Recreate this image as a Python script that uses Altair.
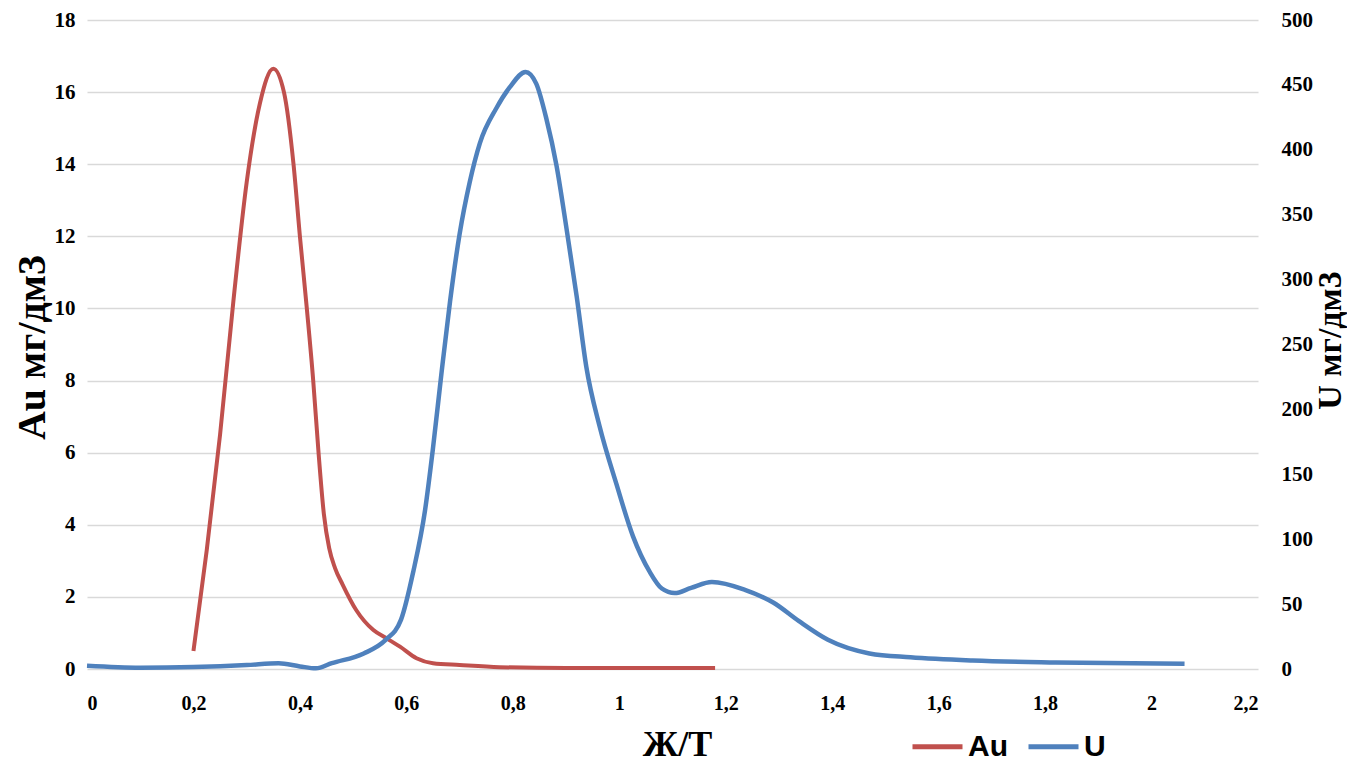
import altair as alt
import pandas as pd

# Au series (left axis, мг/дм3)
au_x = [0.20, 0.225, 0.25, 0.275, 0.30, 0.325, 0.35, 0.37, 0.388, 0.40, 0.413, 0.425,
        0.435, 0.445, 0.455, 0.466, 0.48, 0.506, 0.538, 0.563, 0.588, 0.619, 0.65, 0.70,
        0.775, 0.90, 1.00, 1.18]
au_y = [0.5, 3.3, 6.5, 10.2, 13.5, 15.7, 16.65, 16.0, 14.0, 12.0, 10.0, 8.0,
        6.0, 4.3, 3.35, 2.8, 2.35, 1.63, 1.08, 0.85, 0.62, 0.30, 0.16, 0.11,
        0.05, 0.03, 0.03, 0.03]

# U series (right axis, мг/дм3)
u_x = [0.0, 0.1, 0.2, 0.3, 0.36, 0.40, 0.43, 0.46, 0.52, 0.56, 0.59, 0.613, 0.635,
       0.65, 0.666, 0.682, 0.70, 0.719, 0.738, 0.769, 0.794, 0.824, 0.844, 0.863,
       0.882, 0.901, 0.92, 0.938, 0.963, 0.995, 1.026, 1.057, 1.08, 1.104, 1.135,
       1.174, 1.236, 1.29, 1.337, 1.392, 1.47, 1.547, 1.664, 1.82, 2.062]
u_y = [2.5, 1.0, 1.5, 3.0, 4.4, 2.0, 0.5, 4.5, 12.0, 22.0, 38.0, 75.0, 122.0,
       170.0, 228.0, 283.0, 335.0, 375.0, 405.0, 432.0, 448.0, 460.0, 451.0, 424.0,
       388.0, 339.0, 287.0, 233.0, 187.0, 142.0, 102.0, 75.0, 62.0, 58.5, 62.5,
       67.0, 61.0, 51.0, 37.0, 22.5, 12.0, 9.0, 6.5, 5.0, 4.0]

x_ticks = [0, 0.2, 0.4, 0.6, 0.8, 1.0, 1.2, 1.4, 1.6, 1.8, 2.0, 2.2]
left_ticks = [0, 2, 4, 6, 8, 10, 12, 14, 16, 18]
right_ticks = [0, 50, 100, 150, 200, 250, 300, 350, 400, 450, 500]
series_names = ["Au", "U"]
series_colors = ["#C0504D", "#4F81BD"]

au_df = pd.DataFrame({"x": au_x, "y": au_y, "series": "Au"})
u_df = pd.DataFrame({"x": u_x, "y": u_y, "series": "U"})

SERIF = "Liberation Serif"

x_enc = alt.X(
    "x:Q",
    scale=alt.Scale(domain=[0, 2.2], nice=False, zero=False),
    axis=alt.Axis(
        values=x_ticks,
        labelExpr="replace(format(datum.value, '.1~f'), '.', ',')",
        grid=False, domain=False, ticks=False,
        labelFont=SERIF, labelFontWeight="bold", labelFontSize=20, labelColor="black",
        labelPadding=24,
        title="Ж/Т", titleFont=SERIF, titleFontWeight="bold", titleFontSize=36,
        titleColor="black", titleX=590, titleY=75, titleBaseline="middle",
        titleAlign="center",
    ),
)

color_enc = alt.Color(
    "series:N",
    scale=alt.Scale(domain=series_names, range=series_colors),
    legend=alt.Legend(
        title=None, orient="none", legendX=823, legendY=699, direction="horizontal",
        symbolType="stroke", symbolSize=2500, symbolStrokeWidth=5,
        labelFont="Liberation Sans Narrow, Liberation Sans", labelFontWeight="bold",
        labelFontSize=30, labelColor="black", labelOffset=3, columnPadding=10,
    ),
)

au_line = alt.Chart(au_df).mark_line(interpolate="monotone", strokeWidth=4).encode(
    x=x_enc,
    y=alt.Y(
        "y:Q",
        scale=alt.Scale(domain=[0, 18], nice=False),
        axis=alt.Axis(
            orient="left", values=left_ticks, grid=True, gridColor="#D9D9D9",
            gridWidth=1.3, domain=False, ticks=False,
            labelFont=SERIF, labelFontWeight="bold", labelFontSize=21,
            labelColor="black", labelPadding=12,
            title="Au мг/дм3", titleFont=SERIF, titleFontWeight="bold",
            titleFontSize=40, titleColor="black", titleAngle=270,
            titleX=-55, titleY=327, titleAlign="center", titleBaseline="middle",
        ),
    ),
    color=color_enc,
)

u_line = alt.Chart(u_df).mark_line(interpolate="monotone", strokeWidth=4.5).encode(
    x=x_enc,
    y=alt.Y(
        "y:Q",
        scale=alt.Scale(domain=[0, 500], nice=False),
        axis=alt.Axis(
            orient="right", values=right_ticks, grid=False, domain=False, ticks=False,
            labelFont=SERIF, labelFontWeight="bold", labelFontSize=21,
            labelColor="black", labelPadding=23,
            title="U мг/дм3", titleFont=SERIF, titleFontWeight="bold",
            titleFontSize=34, titleColor="black", titleAngle=270,
            titleX=72, titleY=320, titleAlign="center", titleBaseline="middle",
        ),
    ),
    color=color_enc,
)

chart = (
    alt.layer(au_line, u_line)
    .resolve_scale(y="independent")
    .properties(
        width=1171, height=649,
        autosize=alt.AutoSizeParams(type="none"),
        padding={"left": 79, "top": 12, "right": 89, "bottom": 95},
        background="white",
    )
    .configure_view(stroke=None)
)

chart.save("out.html", embed_options={"renderer": "svg", "actions": False})
